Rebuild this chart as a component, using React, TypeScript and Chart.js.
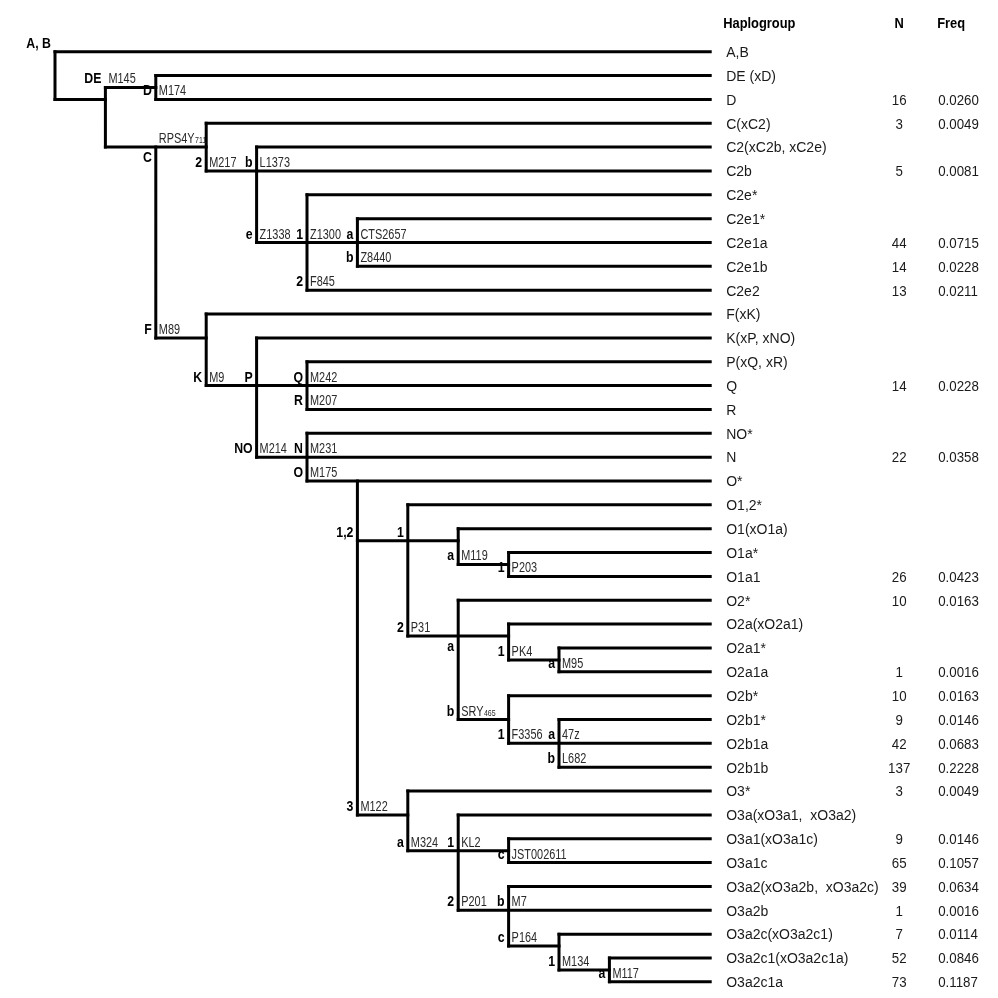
import React, { useEffect, useRef } from "react";
import { Chart, registerables } from "chart.js";

Chart.register(...registerables);

// ---- Leaf table (top to bottom) ----
const haplogroups = [
  "A,B", "DE (xD)", "D", "C(xC2)", "C2(xC2b, xC2e)", "C2b", "C2e*", "C2e1*", "C2e1a", "C2e1b",
  "C2e2", "F(xK)", "K(xP, xNO)", "P(xQ, xR)", "Q", "R", "NO*", "N", "O*", "O1,2*",
  "O1(xO1a)", "O1a*", "O1a1", "O2*", "O2a(xO2a1)", "O2a1*", "O2a1a", "O2b*", "O2b1*", "O2b1a",
  "O2b1b", "O3*", "O3a(xO3a1,  xO3a2)", "O3a1(xO3a1c)", "O3a1c", "O3a2(xO3a2b,  xO3a2c)", "O3a2b",
  "O3a2c(xO3a2c1)", "O3a2c1(xO3a2c1a)", "O3a2c1a",
];
const sampleCounts = [
  null, null, 16, 3, null, 5, null, null, 44, 14,
  13, null, null, null, 14, null, null, 22, null, null,
  null, null, 26, 10, null, null, 1, 10, 9, 42,
  137, 3, null, 9, 65, 39, 1, 7, 52, 73,
];
const frequencies = [
  null, null, 0.026, 0.0049, null, 0.0081, null, null, 0.0715, 0.0228,
  0.0211, null, null, null, 0.0228, null, null, 0.0358, null, null,
  null, null, 0.0423, 0.0163, null, null, 0.0016, 0.0163, 0.0146, 0.0683,
  0.2228, 0.0049, null, 0.0146, 0.1057, 0.0634, 0.0016, 0.0114, 0.0846, 0.1187,
];
const leafParents = [
  "root", "D", "D", "C", "C2", "C2", "C2e", "C2e1", "C2e1", "C2e1",
  "C2e", "F", "K", "P", "P", "P", "NO", "NO", "O", "O12",
  "O1", "O1a", "O1a", "O2", "O2a", "O2a1", "O2a1", "O2b", "O2b1", "O2b1",
  "O2b1", "O3", "O3a", "O3a1", "O3a1", "O3a2", "O3a2", "O3a2c", "O3a2c1", "O3a2c1",
];
const leafClades = [
  "A, B", "", "D", "", "", "b", "", "", "a", "b",
  "2", "", "", "", "Q", "R", "", "N", "", "",
  "", "", "1", "", "", "", "a", "", "", "a",
  "b", "", "", "", "c", "", "b", "", "", "a",
];
const leafMarkers = [
  "", "", "M174", "", "", "L1373", "", "", "CTS2657", "Z8440",
  "F845", "", "", "", "M242", "M207", "", "M231", "", "",
  "", "", "P203", "", "", "", "M95", "", "", "47z",
  "L682", "", "", "", "JST002611", "", "M7", "", "", "M117",
];

// ---- Internal nodes ----
const nodeNames = [
  "root", "DE", "D", "CF", "C", "C2", "C2e", "C2e1", "F", "K", "P", "NO", "O", "O12",
  "O1", "O1a", "O2", "O2a", "O2a1", "O2b", "O2b1", "O3", "O3a", "O3a1", "O3a2", "O3a2c", "O3a2c1",
];
const nodeParents = [
  null, "root", "DE", "DE", "CF", "C", "C2", "C2e", "CF", "F", "K", "K", "NO", "O",
  "O12", "O1", "O12", "O2", "O2a", "O2", "O2b", "O", "O3", "O3a", "O3a", "O3a2", "O3a2c",
];
const nodeDepths = [0, 1, 2, 2, 3, 4, 5, 6, 3, 4, 5, 5, 6, 7, 8, 9, 8, 9, 10, 9, 10, 7, 8, 9, 9, 10, 11];
const nodeStemRows = [
  null, 2, 1.5, 4, 4, 5, 8, 8, 12, 14, 14, 17, 18, 20.5,
  20.5, 21.5, 24.5, 24.5, 25.5, 28, 29, 32, 33.5, 33.5, 36, 37.5, 38.5,
];
const nodeClades = [
  "", "", "DE", "", "C", "2", "e", "1", "F", "K", "P", "NO", "O", "1,2",
  "1", "a", "2", "a", "1", "b", "1", "3", "a", "1", "2", "c", "1",
];
const nodeMarkers = [
  "", "", "M145", "", "RPS4Y_711", "M217", "Z1338", "Z1300", "M89", "M9", "", "M214", "M175", "",
  "", "M119", "P31", "", "PK4", "SRY_465", "F3356", "M122", "M324", "KL2", "P201", "P164", "M134",
];
const cladeBelowBranch = ["C", "O2a"];

const LEAF_DEPTH = 13;
const X_MIN = -1.0913;
const X_MAX = 18.71;
const Y_MIN = -2.1677;
const Y_MAX = 39.677;
const HEADER_ROW = -1;

const depthOf = (name: string) => nodeDepths[nodeNames.indexOf(name)];

function buildSegments() {
  const horizontal: any[] = [];
  const vertical: any[] = [];
  const seg = (arr: any[], x1: number, y1: number, x2: number, y2: number) => {
    arr.push({ x: x1, y: y1 }, { x: x2, y: y2 }, { x: x2, y: null });
  };
  nodeNames.forEach((name, i) => {
    const rows: number[] = [];
    leafParents.forEach((p, r) => { if (p === name) rows.push(r); });
    nodeParents.forEach((p, j) => { if (p === name) rows.push(nodeStemRows[j] as number); });
    const d = nodeDepths[i];
    seg(vertical, d, Math.min(...rows), d, Math.max(...rows));
    const parent = nodeParents[i];
    if (parent) seg(horizontal, depthOf(parent), nodeStemRows[i] as number, d, nodeStemRows[i] as number);
  });
  leafParents.forEach((p, r) => seg(horizontal, depthOf(p), r, LEAF_DEPTH, r));
  return { horizontal, vertical };
}

const FONT = '"Liberation Sans", Arial, Helvetica, sans-serif';

const treeLabels = {
  id: "treeLabels",
  afterDatasetsDraw(chart: any) {
    const { ctx } = chart;
    const xs = chart.scales.x;
    const ys = chart.scales.y;
    const px = (v: number) => xs.getPixelForValue(v);
    const py = (v: number) => ys.getPixelForValue(v);
    const text = (s: string, X: number, Y: number, font: string, color: string, align: string, sx: number, sy: number) => {
      ctx.save();
      ctx.translate(X, Y);
      ctx.scale(sx, sy);
      ctx.font = font;
      ctx.fillStyle = color;
      ctx.textAlign = align;
      ctx.textBaseline = "alphabetic";
      ctx.fillText(s, 0, 0);
      const w = ctx.measureText(s).width * sx;
      ctx.restore();
      return w;
    };
    const boldFont = `bold 14px ${FONT}`;
    const markerFont = `14px ${FONT}`;
    const drawBranchLabel = (clade: string, marker: string, depth: number, row: number, below: boolean) => {
      const X = px(depth);
      const Y = py(row);
      if (clade) text(clade, X - 4, below ? Y + 15 : Y - 4, boldFont, "#000", "right", 0.88, 1.05);
      if (marker) {
        const [main, sub] = marker.split("_");
        const w = text(main, X + 3, Y - 4, markerFont, "#2a2a2a", "left", 0.78, 1.05);
        if (sub) text(sub, X + 3 + w + 0.5, Y - 4, `9px ${FONT}`, "#2a2a2a", "left", 0.78, 1.0);
      }
    };
    nodeNames.forEach((name, i) => {
      const parent = nodeParents[i];
      if (!parent) return;
      drawBranchLabel(nodeClades[i], nodeMarkers[i], depthOf(parent), nodeStemRows[i] as number, cladeBelowBranch.includes(name));
    });
    leafParents.forEach((p, r) => drawBranchLabel(leafClades[r], leafMarkers[r], depthOf(p), r, false));

    const labelX = px(LEAF_DEPTH) + 16;
    const nX = labelX + 173;
    const fX = labelX + 212;
    const leafFont = `14px ${FONT}`;
    haplogroups.forEach((h, r) => {
      const Y = py(r) + 5.3;
      text(h, labelX, Y, leafFont, "#1a1a1a", "left", 1, 1.07);
      if (sampleCounts[r] != null) text(String(sampleCounts[r]), nX, Y, leafFont, "#1a1a1a", "center", 0.95, 1.07);
      if (frequencies[r] != null) text((frequencies[r] as number).toFixed(4), fX, Y, leafFont, "#1a1a1a", "left", 0.95, 1.07);
    });
    const hY = py(HEADER_ROW);
    const headFont = `bold 14px ${FONT}`;
    text("Haplogroup", labelX - 3, hY, headFont, "#000", "left", 0.92, 1.07);
    text("N", nX, hY, headFont, "#000", "center", 0.92, 1.07);
    text("Freq", fX - 1, hY, headFont, "#000", "left", 0.92, 1.07);
  },
};

export default function App() {
  const canvasRef = useRef<HTMLCanvasElement | null>(null);
  useEffect(() => {
    const canvas = canvasRef.current;
    if (!canvas) return;
    const { horizontal, vertical } = buildSegments();
    const lineStyle = {
      borderColor: "#000",
      borderWidth: 3,
      borderCapStyle: "square",
      borderJoinStyle: "miter",
      pointRadius: 0,
      spanGaps: false,
      fill: false,
      tension: 0,
    };
    const chart = new Chart(canvas, {
      type: "line",
      data: {
        datasets: [
          { label: "branches", data: horizontal, ...lineStyle },
          { label: "nodes", data: vertical, ...lineStyle },
        ],
      },
      options: {
        responsive: false,
        animation: false,
        events: [],
        layout: { padding: 0 },
        plugins: {
          legend: { display: false },
          tooltip: { enabled: false },
          title: { display: false },
        },
        scales: {
          x: { type: "linear", display: false, min: X_MIN, max: X_MAX },
          y: { type: "linear", display: false, min: Y_MIN, max: Y_MAX, reverse: true },
        },
      },
      plugins: [treeLabels],
    } as any);
    return () => chart.destroy();
  }, []);
  return (
    <div style={{ position: "absolute", left: 0, top: 0, width: 998, height: 998, background: "#fff" }}>
      <canvas ref={canvasRef} width={998} height={998} style={{ display: "block" }} />
    </div>
  );
}
